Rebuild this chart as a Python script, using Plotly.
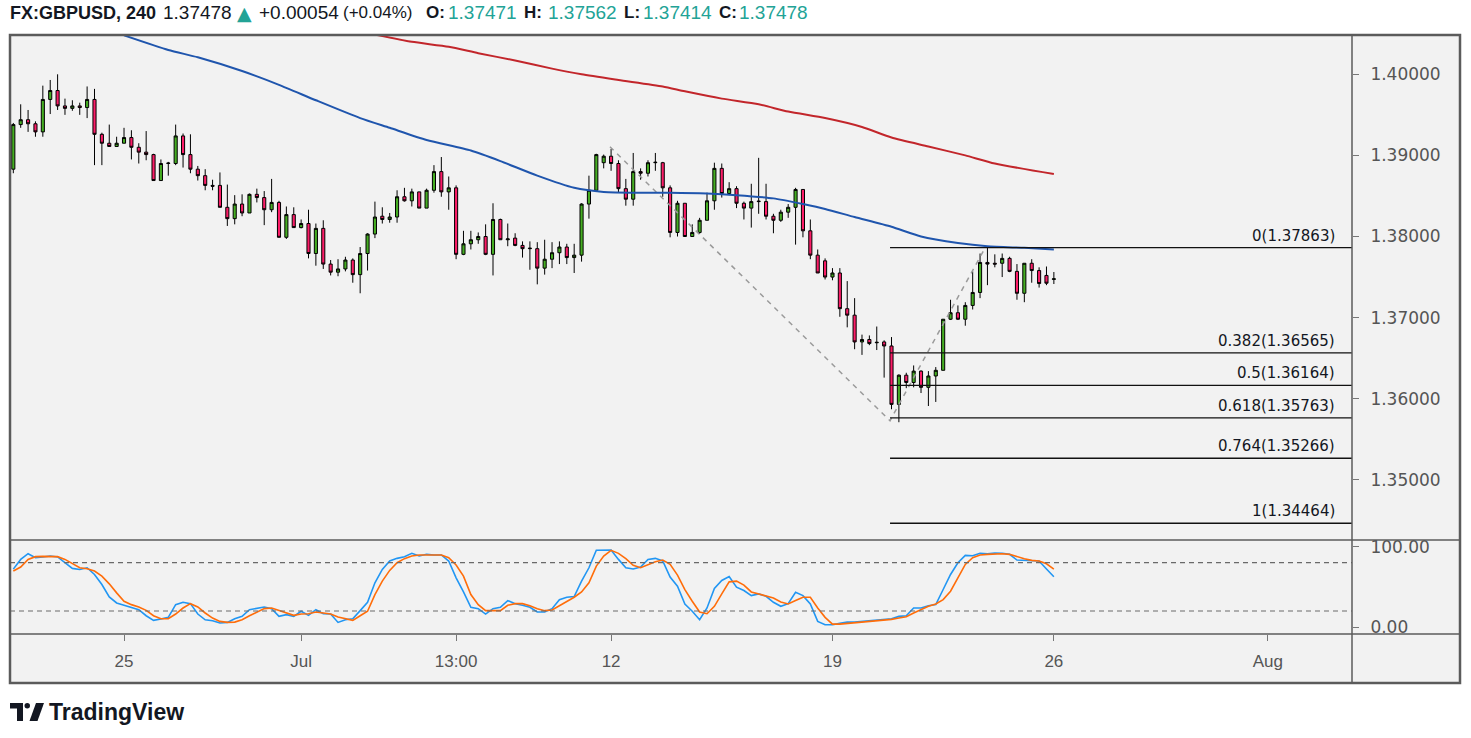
import plotly.graph_objects as go

# ---------------- data ----------------
symbol = "FX:GBPUSD, 240"

opens = [1.3883, 1.3938, 1.3944, 1.3939, 1.3929, 1.3969, 1.3980, 1.3961, 1.3958, 1.3961,
         1.3959, 1.3969, 1.3926, 1.3915, 1.3911, 1.3915, 1.3922, 1.3910, 1.3904, 1.3901,
         1.3869, 1.3890, 1.3890, 1.3924, 1.3901, 1.3883, 1.3875, 1.3863, 1.3863, 1.3836,
         1.3822, 1.3840, 1.3829, 1.3852, 1.3848, 1.3833, 1.3842, 1.3799, 1.3827, 1.3811,
         1.3816, 1.3779, 1.3810, 1.3766, 1.3756, 1.3760, 1.3771, 1.3753, 1.3779, 1.3803,
         1.3825, 1.3821, 1.3824, 1.3849, 1.3844, 1.3855, 1.3835, 1.3857, 1.3880, 1.3855,
         1.3860, 1.3778, 1.3791, 1.3796, 1.3800, 1.3778, 1.3821, 1.3796, 1.3798, 1.3789,
         1.3785, 1.3785, 1.3761, 1.3772, 1.3780, 1.3787, 1.3774, 1.3777, 1.3840, 1.3857,
         1.3891, 1.3899, 1.3890, 1.3859, 1.3846, 1.3880, 1.3878, 1.3891, 1.3891, 1.3860,
         1.3805, 1.3841, 1.3800, 1.3805, 1.3820, 1.3844, 1.3884, 1.3853, 1.3859, 1.3841,
         1.3835, 1.3843, 1.3843, 1.3825, 1.3820, 1.3830, 1.3836, 1.3858, 1.3807, 1.3777,
         1.3770, 1.3750, 1.3755, 1.3711, 1.3703, 1.3670, 1.3673, 1.3669, 1.3670, 1.3665,
         1.3593, 1.3629, 1.3620, 1.3634, 1.3614, 1.3628, 1.3635, 1.3698, 1.3706, 1.3698,
         1.3715, 1.3731, 1.3768, 1.3767, 1.3767, 1.3773, 1.3757, 1.3730, 1.3767, 1.3758,
         1.3752, 1.37471]
highs = [1.3940, 1.3963, 1.3956, 1.3942, 1.3986, 1.3993, 1.4000, 1.3970, 1.3968, 1.3965,
         1.3985, 1.3982, 1.3928, 1.3938, 1.3923, 1.3934, 1.3931, 1.3915, 1.3930, 1.3902,
         1.3895, 1.3892, 1.3938, 1.3927, 1.3926, 1.3887, 1.3883, 1.3870, 1.3879, 1.3864,
         1.3851, 1.3852, 1.3853, 1.3859, 1.3856, 1.3871, 1.3844, 1.3837, 1.3836, 1.3821,
         1.3833, 1.3816, 1.3820, 1.3771, 1.3772, 1.3775, 1.3773, 1.3787, 1.3804, 1.3843,
         1.3836, 1.3829, 1.3857, 1.3860, 1.3859, 1.3855, 1.3859, 1.3888, 1.3898, 1.3874,
         1.3863, 1.3807, 1.3807, 1.3805, 1.3815, 1.3841, 1.3822, 1.3816, 1.3804, 1.3794,
         1.3794, 1.3793, 1.3796, 1.3793, 1.3794, 1.3791, 1.3791, 1.3841, 1.3875, 1.3902,
         1.3901, 1.3908, 1.3894, 1.3871, 1.3903, 1.3884, 1.3894, 1.3903, 1.3892, 1.3863,
         1.3844, 1.3841, 1.3815, 1.3823, 1.3854, 1.3891, 1.3890, 1.3867, 1.3862, 1.3843,
         1.3865, 1.3897, 1.3865, 1.3828, 1.3833, 1.3840, 1.3860, 1.3858, 1.3821, 1.3784,
         1.3773, 1.3761, 1.3761, 1.3745, 1.3724, 1.3679, 1.3678, 1.3689, 1.3672, 1.3676,
         1.3630, 1.3632, 1.3641, 1.3635, 1.3634, 1.3639, 1.3698, 1.3722, 1.3715, 1.3719,
         1.3757, 1.3779, 1.3787, 1.3778, 1.3779, 1.3775, 1.3766, 1.3767, 1.3772, 1.3762,
         1.3763, 1.37562]
lows = [1.3878, 1.3934, 1.3929, 1.3923, 1.3923, 1.3951, 1.3956, 1.3950, 1.3955, 1.3950,
        1.3946, 1.3888, 1.3888, 1.3911, 1.3911, 1.3915, 1.3895, 1.3890, 1.3894, 1.3869,
        1.3869, 1.3875, 1.3888, 1.3885, 1.3878, 1.3869, 1.3857, 1.3857, 1.3836, 1.3813,
        1.3815, 1.3825, 1.3829, 1.3842, 1.3814, 1.3830, 1.3799, 1.3797, 1.3811, 1.3810,
        1.3773, 1.3764, 1.3760, 1.3752, 1.3751, 1.3757, 1.3743, 1.3730, 1.3758, 1.3798,
        1.3816, 1.3817, 1.3817, 1.3843, 1.3837, 1.3835, 1.3835, 1.3854, 1.3849, 1.3833,
        1.3772, 1.3777, 1.3784, 1.3791, 1.3777, 1.3752, 1.3796, 1.3788, 1.3788, 1.3774,
        1.3759, 1.3741, 1.3753, 1.3761, 1.3766, 1.3766, 1.3755, 1.3769, 1.3822, 1.3857,
        1.3884, 1.3881, 1.3854, 1.3838, 1.3838, 1.3870, 1.3874, 1.3881, 1.3849, 1.3799,
        1.3800, 1.3800, 1.3800, 1.3803, 1.3820, 1.3833, 1.3848, 1.3851, 1.3835, 1.3821,
        1.3811, 1.3828, 1.3821, 1.3804, 1.3818, 1.3823, 1.3790, 1.3799, 1.3772, 1.3755,
        1.3747, 1.3746, 1.3701, 1.3688, 1.3661, 1.3654, 1.3666, 1.3660, 1.3626, 1.3587,
        1.3571, 1.3613, 1.3614, 1.3607, 1.3591, 1.3596, 1.3635, 1.3697, 1.3697, 1.3690,
        1.3710, 1.3724, 1.3740, 1.3762, 1.3750, 1.3756, 1.3722, 1.3719, 1.3743, 1.3737,
        1.3740, 1.37414]
closes = [1.3938, 1.3944, 1.3939, 1.3929, 1.3969, 1.3980, 1.3961, 1.3958, 1.3961, 1.3959,
          1.3969, 1.3926, 1.3915, 1.3911, 1.3915, 1.3922, 1.3910, 1.3904, 1.3901, 1.3869,
          1.3890, 1.38905, 1.3924, 1.3901, 1.3883, 1.3875, 1.3863, 1.3862, 1.3836, 1.3822,
          1.3840, 1.3829, 1.3852, 1.3848, 1.3833, 1.3842, 1.3799, 1.3827, 1.3811, 1.3816,
          1.3779, 1.3810, 1.3766, 1.3756, 1.3760, 1.3771, 1.3753, 1.3779, 1.3803, 1.3824,
          1.3821, 1.3824, 1.3849, 1.3844, 1.3855, 1.3835, 1.3857, 1.3880, 1.3855, 1.3860,
          1.3778, 1.3791, 1.3796, 1.3800, 1.3778, 1.3821, 1.3796, 1.3797, 1.3789, 1.3785,
          1.37855, 1.3761, 1.3772, 1.3780, 1.3787, 1.3774, 1.3777, 1.3840, 1.3857, 1.3901,
          1.3899, 1.3890, 1.3859, 1.3846, 1.3880, 1.3878, 1.3891, 1.38915, 1.3860, 1.3805,
          1.3841, 1.3800, 1.3805, 1.3820, 1.3844, 1.3884, 1.3853, 1.3859, 1.3841, 1.3835,
          1.3843, 1.38435, 1.3825, 1.3820, 1.3830, 1.3836, 1.3858, 1.3807, 1.3777, 1.3755,
          1.3750, 1.3755, 1.3711, 1.3703, 1.3670, 1.3673, 1.3668, 1.36695, 1.3665, 1.3593,
          1.3629, 1.3620, 1.3634, 1.3614, 1.3628, 1.3635, 1.3698, 1.3706, 1.3698, 1.3715,
          1.3731, 1.3768, 1.3766, 1.3766, 1.3773, 1.3757, 1.3730, 1.3767, 1.3758, 1.3742,
          1.37424, 1.37478]

stoch_k = [72.0, 84.1, 91.2, 86.2, 87.1, 88.3, 87.1, 80.0, 72.9, 71.6,
           73.7, 65.4, 52.9, 37.5, 30.0, 27.1, 24.6, 21.6, 14.1, 8.3,
           10.0, 12.1, 27.9, 30.8, 29.1, 16.2, 9.1, 7.9, 5.0, 5.8,
           10.4, 13.3, 21.6, 23.7, 25.0, 22.9, 13.3, 15.4, 13.3, 19.6,
           14.6, 21.6, 16.6, 16.2, 5.8, 9.1, 10.4, 20.4, 30.8, 55.0,
           71.6, 82.1, 85.4, 87.5, 91.7, 88.3, 90.4, 89.6, 89.6, 82.1,
           61.2, 43.7, 24.6, 22.9, 16.2, 22.9, 24.6, 32.9, 29.1, 27.1,
           24.6, 18.7, 18.7, 22.9, 34.1, 37.1, 37.9, 57.1, 73.7, 95.4,
           95.4, 95.8, 84.1, 73.7, 72.1, 74.6, 84.1, 85.4, 82.1, 62.1,
           50.8, 28.7, 19.6, 9.1, 23.7, 47.9, 57.9, 62.9, 49.6, 45.4,
           39.1, 41.2, 38.3, 30.8, 25.8, 29.1, 43.3, 39.1, 28.7, 7.1,
           2.9, 2.9, 4.6, 6.2, 6.2, 7.1, 7.9, 8.7, 10.4, 10.4,
           13.3, 14.1, 23.7, 23.7, 26.6, 27.9, 46.7, 65.4, 80.0, 89.1,
           88.7, 91.7, 91.2, 92.1, 91.7, 90.4, 83.3, 82.9, 82.1, 82.1,
           72.1, 62.5]
stoch_d = [69.6, 74.6, 84.1, 87.5, 87.9, 87.9, 87.5, 84.1, 78.7, 73.7,
           72.5, 69.6, 63.3, 53.7, 42.5, 32.1, 27.9, 25.0, 20.8, 14.1,
           10.4, 10.4, 16.2, 23.7, 29.1, 25.0, 17.5, 11.2, 7.1, 5.8,
           6.2, 9.1, 14.1, 18.7, 22.9, 23.7, 20.8, 17.5, 14.6, 16.2,
           16.6, 18.7, 17.9, 16.2, 12.5, 10.0, 8.3, 14.1, 19.6, 40.4,
           57.1, 70.4, 80.0, 85.0, 88.3, 89.6, 89.6, 89.6, 89.6, 86.2,
           77.1, 63.3, 40.4, 27.9, 20.4, 20.4, 20.4, 27.1, 29.1, 29.1,
           26.6, 22.9, 20.4, 21.2, 26.6, 32.1, 37.1, 43.7, 55.0, 75.8,
           88.3, 95.4, 91.6, 85.0, 76.7, 73.7, 77.1, 81.2, 83.3, 77.9,
           64.6, 46.6, 32.1, 18.7, 16.6, 25.8, 41.2, 56.2, 57.1, 52.1,
           43.7, 41.2, 39.1, 36.2, 31.2, 28.7, 32.9, 37.1, 37.1, 23.7,
           12.1, 3.7, 3.7, 4.6, 5.4, 6.2, 6.6, 7.9, 8.7, 9.6,
           11.2, 12.9, 17.5, 21.6, 25.8, 28.7, 34.1, 44.6, 61.2, 77.9,
           86.2, 89.6, 90.4, 91.2, 91.2, 90.4, 87.5, 85.0, 82.9, 82.1,
           78.7, 72.1]

ma_blue_idx = [15, 21, 25, 31, 36, 41, 47, 51, 56, 62, 66, 71, 76, 80, 85, 89, 94, 98,
               103, 107, 110, 114, 119, 123, 128, 132, 137, 141]
ma_blue = [1.4048, 1.4030, 1.4021, 1.4004, 1.3987, 1.3968, 1.3946, 1.3934, 1.3919, 1.3906,
           1.3893, 1.3875, 1.3860, 1.3855, 1.3854, 1.3854, 1.3853, 1.3851, 1.3847, 1.3840,
           1.3834, 1.3824, 1.3812, 1.3800, 1.3792, 1.3788, 1.3786, 1.3784]
ma_red_idx = [49, 54, 59, 63, 68, 73, 77, 82, 88, 91, 96, 101, 105, 110, 115, 119, 124, 129, 133, 141]
ma_red = [1.4049, 1.4040, 1.4034, 1.4026, 1.4017, 1.4007, 1.4000, 1.3993, 1.3985, 1.3979,
          1.3970, 1.3963, 1.3954, 1.3946, 1.3935, 1.3922, 1.3911, 1.3900, 1.3890, 1.3877]

fib_ratios = ["0", "0.382", "0.5", "0.618", "0.764", "1"]
fib_prices = [1.37863, 1.36565, 1.36164, 1.35763, 1.35266, 1.34464]
fib_start_idx = 118.8
swing_idx = [80.85, 118.8, 131.7]
swing_price = [1.39107, 1.35729, 1.37863]

date_tick_idx = [15, 39, 60, 81, 111, 141, 170]
date_tick_text = ["25", "Jul", "13:00", "12", "19", "26", "Aug"]
price_ticks = [1.35, 1.36, 1.37, 1.38, 1.39, 1.40]
stoch_ticks = [0, 100]
stoch_bands = [20, 80]

# ---------------- styling / geometry ----------------
W, H = 1471, 738
PL, PR, PT, PB = 10, 1352, 36, 634          # plot area in pixels
SPLIT = 540                                  # price / stochastic separator
X_RANGE = [-0.45, 181.4]
Y_RANGE = [1.342577, 1.404722]
Y2_RANGE = [-8.6, 108.2]

GREEN = "#45ad22"
RED = "#fc1d68"
TEAL = "#22a396"
FRAME = "#5b5b5b"
BG = "#f2f2f2"
TXT = "#131722"
AX_TXT = "#555555"


def pxx(x):
    return (x - PL) / (PR - PL)


def pyy(y):
    return (PB - y) / (PB - PT)


idx = list(range(len(opens)))
split_dom = (PB - SPLIT) / (PB - PT)

fig = go.Figure()

# swing (trend-based fib) dashed path
fig.add_trace(go.Scatter(x=swing_idx, y=swing_price, mode="lines",
                         line=dict(color="#9a9a9a", width=1.5, dash="5px,5px"),
                         hoverinfo="skip", showlegend=False))

fig.add_trace(go.Candlestick(
    x=idx, open=opens, high=highs, low=lows, close=closes,
    increasing=dict(fillcolor=GREEN, line=dict(color="#000000", width=1)),
    decreasing=dict(fillcolor=RED, line=dict(color="#000000", width=1)),
    whiskerwidth=0, showlegend=False, hoverinfo="skip"))

fig.add_trace(go.Scatter(x=ma_blue_idx, y=ma_blue, mode="lines",
                         line=dict(color="#1f55ad", width=2, shape="spline", smoothing=0.6),
                         hoverinfo="skip", showlegend=False))
fig.add_trace(go.Scatter(x=ma_red_idx, y=ma_red, mode="lines",
                         line=dict(color="#c2262b", width=2, shape="spline", smoothing=0.6),
                         hoverinfo="skip", showlegend=False))

fig.add_trace(go.Scatter(x=idx, y=stoch_k, mode="lines", yaxis="y2",
                         line=dict(color="#2196f3", width=1.6),
                         hoverinfo="skip", showlegend=False))
fig.add_trace(go.Scatter(x=idx, y=stoch_d, mode="lines", yaxis="y2",
                         line=dict(color="#ff6d0a", width=1.6),
                         hoverinfo="skip", showlegend=False))

shapes = []
# background of the whole chart frame
shapes.append(dict(type="rect", xref="paper", yref="paper",
                   x0=pxx(10), x1=pxx(1460), y0=pyy(683), y1=pyy(35),
                   fillcolor=BG, line=dict(width=0), layer="below"))
# stochastic bands
for b in stoch_bands:
    shapes.append(dict(type="line", xref="x", yref="y2", x0=X_RANGE[0], x1=X_RANGE[1],
                       y0=b, y1=b, line=dict(color="#6a6a6a", width=1.2, dash="5px,4px")))
# fib levels
for p in fib_prices:
    shapes.append(dict(type="line", xref="x", yref="y", x0=fib_start_idx, x1=X_RANGE[1],
                       y0=p, y1=p, line=dict(color="#111111", width=1.4)))
# separators and frame
shapes.append(dict(type="line", xref="paper", yref="paper", x0=pxx(10), x1=pxx(1460),
                   y0=pyy(SPLIT), y1=pyy(SPLIT), line=dict(color=FRAME, width=1.5)))
shapes.append(dict(type="line", xref="paper", yref="paper", x0=pxx(10), x1=pxx(1460),
                   y0=pyy(PB), y1=pyy(PB), line=dict(color=FRAME, width=1.5)))
shapes.append(dict(type="line", xref="paper", yref="paper", x0=pxx(PR), x1=pxx(PR),
                   y0=pyy(35), y1=pyy(683), line=dict(color=FRAME, width=1.5)))
shapes.append(dict(type="rect", xref="paper", yref="paper",
                   x0=pxx(10), x1=pxx(1460), y0=pyy(683), y1=pyy(35),
                   line=dict(color=FRAME, width=2.5), fillcolor="rgba(0,0,0,0)"))


# TradingView logo
def poly(pts):
    return "M " + " L ".join(f"{pxx(x):.5f},{pyy(y):.5f}" for x, y in pts) + " Z"


shapes.append(dict(type="path", xref="paper", yref="paper", fillcolor=TXT, line=dict(width=0),
                   path=poly([(10, 703), (23, 703), (23, 721), (17, 721), (17, 708.5), (10, 708.5)])))
shapes.append(dict(type="circle", xref="paper", yref="paper", fillcolor=TXT, line=dict(width=0),
                   x0=pxx(24.5), x1=pxx(30), y0=pyy(708.5), y1=pyy(703)))
shapes.append(dict(type="path", xref="paper", yref="paper", fillcolor=TXT, line=dict(width=0),
                   path=poly([(36, 703), (44, 703), (37.5, 721), (29.5, 721)])))

annotations = []
for r, p in zip(fib_ratios, fib_prices):
    annotations.append(dict(x=179.4, y=p, xref="x", yref="y", text=f"{r}({p:.5f})",
                            showarrow=False, xanchor="right", yanchor="bottom", yshift=1,
                            font=dict(family="DejaVu Sans", size=15, color=TXT)))

# header legend, pieces placed at their left pixel positions
chg = closes[-1] - closes[-2]
pct = chg / closes[-2] * 100
header_parts = [
    (8, f"<b>{symbol}</b>", TXT, 18, "Liberation Sans"),
    (161, f"{closes[-1]:.5f}", TXT, 19, "Liberation Sans"),
    (235, "▲", TEAL, 19, "DejaVu Sans"),
    (257, f"+{chg:.5f}", TXT, 19, "Liberation Sans"),
    (341, f"(+{pct:.2f}%)", TXT, 17, "Liberation Sans"),
    (424, "<b>O:</b>", TXT, 17, "Liberation Sans"),
    (446, f"{opens[-1]:.5f}", TEAL, 19, "Liberation Sans"),
    (522, "<b>H:</b>", TXT, 17, "Liberation Sans"),
    (546, f"{highs[-1]:.5f}", TEAL, 19, "Liberation Sans"),
    (622, "<b>L:</b>", TXT, 17, "Liberation Sans"),
    (641, f"{lows[-1]:.5f}", TEAL, 19, "Liberation Sans"),
    (717, "<b>C:</b>", TXT, 17, "Liberation Sans"),
    (737, f"{closes[-1]:.5f}", TEAL, 19, "Liberation Sans"),
]
for xpix, txt, col, size, fam in header_parts:
    annotations.append(dict(x=pxx(xpix), y=pyy(13), xref="paper", yref="paper", text=txt,
                            showarrow=False, xanchor="left", yanchor="middle",
                            font=dict(family=fam, size=size, color=col)))

annotations.append(dict(x=pxx(47), y=pyy(712), xref="paper", yref="paper", text="<b>TradingView</b>",
                        showarrow=False, xanchor="left", yanchor="middle",
                        font=dict(family="Liberation Sans", size=23, color=TXT)))

fig.update_layout(
    width=W, height=H,
    margin=dict(l=PL, r=W - PR, t=PT, b=H - PB, pad=0),
    paper_bgcolor="#ffffff", plot_bgcolor=BG,
    showlegend=False, hovermode=False, boxgap=0.4,
    shapes=shapes, annotations=annotations,
    xaxis=dict(range=X_RANGE, anchor="y2", showgrid=False, zeroline=False, showline=False,
               rangeslider=dict(visible=False),
               tickmode="array", tickvals=date_tick_idx, ticktext=date_tick_text,
               ticks="outside", ticklen=6, tickcolor="#777777", tickwidth=1,
               ticklabelstandoff=6,
               tickfont=dict(family="Liberation Sans", size=17, color=AX_TXT)),
    yaxis=dict(domain=[split_dom, 1], range=Y_RANGE, side="right", anchor="x",
               showgrid=False, zeroline=False, showline=False,
               tickmode="array", tickvals=price_ticks, ticktext=[f"{t:.5f}" for t in price_ticks],
               ticks="outside", ticklen=6, tickcolor="#777777", tickwidth=1,
               ticklabelstandoff=8,
               tickfont=dict(family="DejaVu Sans", size=17, color=AX_TXT)),
    yaxis2=dict(domain=[0, split_dom], range=Y2_RANGE, side="right", anchor="x",
                showgrid=False, zeroline=False, showline=False,
                tickmode="array", tickvals=stoch_ticks, ticktext=[f"{t:.2f}" for t in stoch_ticks],
                ticks="outside", ticklen=6, tickcolor="#777777", tickwidth=1,
                ticklabelstandoff=8,
                tickfont=dict(family="DejaVu Sans", size=17, color=AX_TXT)),
)

fig.write_html("out.html", include_plotlyjs=True,
               config={"displayModeBar": False, "staticPlot": True},
               post_script="document.body.style.margin='0px';document.body.style.overflow='hidden';")
